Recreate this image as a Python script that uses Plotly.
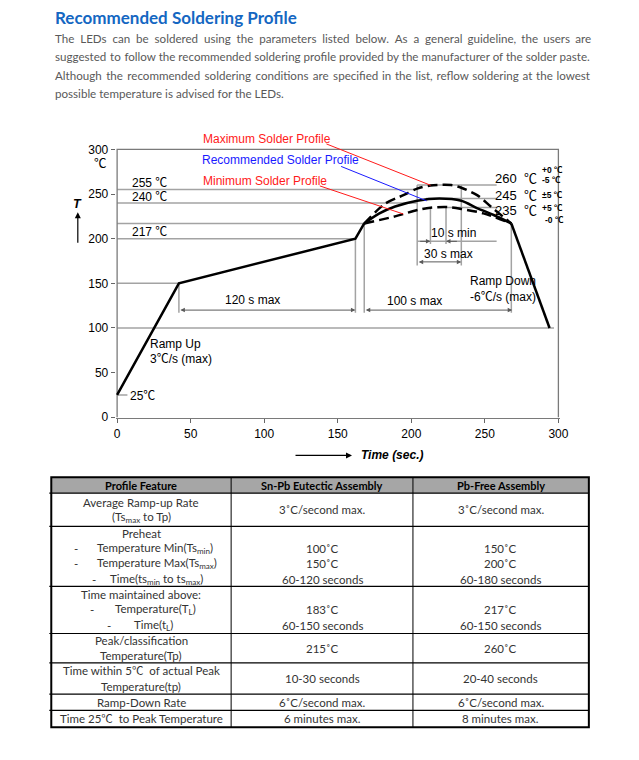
import plotly.graph_objects as go

# ---- profile data (time in s, temperature in degC) ----
base_time = [0, 42, 162, 168]
base_temp = [25, 150, 200, 217]
down_time = [268, 294]
down_temp = [217, 100]

rec_time = [168, 178, 189, 204, 219, 234, 245, 256, 268]
rec_temp = [217, 228, 236, 242.5, 245, 242.5, 234, 226.5, 217]
max_time = [168, 182, 195, 204, 213, 227, 234, 245, 254, 268]
max_temp = [217, 239, 249, 256, 259.5, 260, 257, 248.5, 236, 217]
min_time = [168, 189, 204, 213, 224, 234, 249, 268]
min_temp = [217, 225, 232, 234.7, 235.5, 233.3, 228.3, 217]

# horizontal guide lines: level, from, to
guide_level = [255, 240, 217, 200, 150, 100, 260, 245, 235, 197, 25]
guide_from = [0, 0, 0, 0, 0, 0, 204, 210, 223, 204, 0]
guide_to = [204, 204, 168, 162, 42, 297, 258, 258, 258, 258, 7]
# vertical guide lines: time, from, to
vguide_time = [42, 162, 168, 268, 204, 234, 213, 223.6]
vguide_top = [150, 200, 217, 217, 260, 260, 234.7, 235.5]
vguide_bot = [117, 117, 117, 117, 170, 170, 194, 194]

x_ticks = [0, 50, 100, 150, 200, 250, 300]
y_ticks = [0, 50, 100, 150, 200, 250, 300]

# ---- table content ----
table_header = ["Profile Feature", "Sn-Pb Eutectic Assembly", "Pb-Free Assembly"]
features = [
    ["Average Ramp-up Rate", "(Ts<sub>max</sub> to Tp)"],
    ["Preheat", "Temperature Min(Ts<sub>min</sub>)", "Temperature Max(Ts<sub>max</sub>)",
     "Time(ts<sub>min</sub> to ts<sub>max</sub>)"],
    ["Time maintained above:", "Temperature(T<sub>L</sub>)", "Time(t<sub>L</sub>)"],
    ["Peak/classification", "Temperature(Tp)"],
    ["Time within 5℃  of actual Peak", "Temperature(tp)"],
    ["Ramp-Down Rate"],
    ["Time 25℃  to Peak Temperature"],
]
snpb = [["3˚C/second max."], ["100˚C", "150˚C", "60-120 seconds"], ["183˚C", "60-150 seconds"],
        ["215˚C"], ["10-30 seconds"], ["6˚C/second max."], ["6 minutes max."]]
pbfree = [["3˚C/second max."], ["150˚C", "200˚C", "60-180 seconds"], ["217˚C", "60-150 seconds"],
          ["260˚C"], ["20-40 seconds"], ["6˚C/second max."], ["8 minutes max."]]

title = "Recommended Soldering Profile"
paragraph = [
    "The LEDs can be soldered using the parameters listed below. As a general guideline, the users are",
    "suggested to follow the recommended soldering profile provided by the manufacturer of the solder paste.",
    "Although the recommended soldering conditions are specified in the list, reflow soldering at the lowest",
    "possible temperature is advised for the LEDs.",
]
# hair spaces added across the word gaps of each line (text justification)
para_hair = [60, 2, 20, 0]

W, H = 639, 760
OFF = 8  # page body margin


def fx(p):
    return (p - OFF) / W


def fy(p):
    return 1 - (p - OFF) / H


def justify(line, n_hair):
    words = line.split(" ")
    gaps = len(words) - 1
    out = words[0]
    for i, w in enumerate(words[1:]):
        k = n_hair // gaps + (1 if i < n_hair % gaps else 0)
        out += " " + "\u200a" * k + w
    return out


ARIAL = "Liberation Sans, Arial, Noto Sans CJK SC, sans-serif"
DOC = "Lato, Noto Sans CJK SC, sans-serif"
GUIDE = "#a3a3a3"

fig = go.Figure()

# guide lines
gx, gy = [], []
for lv, a, b in zip(guide_level, guide_from, guide_to):
    gx += [a, b, None]
    gy += [lv, lv, None]
for t, a, b in zip(vguide_time, vguide_top, vguide_bot):
    gx += [t, t, None]
    gy += [a, b, None]
fig.add_trace(go.Scatter(x=gx, y=gy, mode="lines", line=dict(color=GUIDE, width=1.5),
                         hoverinfo="skip"))

# frame: left axis, top and right border
fig.add_trace(go.Scatter(x=[0, 0, 300, 300], y=[0, 300, 300, 0], mode="lines",
                         line=dict(color="#7a7a7a", width=1.3), hoverinfo="skip"))

# profiles
blk = dict(color="black", width=2.5)
fig.add_trace(go.Scatter(x=base_time, y=base_temp, mode="lines", line=blk))
fig.add_trace(go.Scatter(x=down_time, y=down_temp, mode="lines", line=blk))
fig.add_trace(go.Scatter(x=rec_time, y=rec_temp, mode="lines",
                         line=dict(color="black", width=2.5, shape="spline", smoothing=0.8)))
for tt, vv in [(max_time, max_temp), (min_time, min_temp)]:
    fig.add_trace(go.Scatter(x=tt, y=vv, mode="lines",
                             line=dict(color="black", width=2.5, dash="10px,5px",
                                       shape="spline", smoothing=0.8)))

ann = []


def txt(s, x, y, anchor="left", size=12, color="black", ref="data", **kw):
    d = dict(text=s, x=x, y=y, xanchor=anchor, yanchor="middle", showarrow=False,
             font=dict(family=kw.pop("family", ARIAL), size=size, color=color), **kw)
    if ref == "paper":
        d.update(xref="paper", yref="paper", x=fx(x), y=fy(y))
    ann.append(d)


# chart labels
txt("255 ℃", 8.7, 262.8)
txt("240 ℃", 8.7, 247)
txt("217 ℃", 8.7, 207)
txt("120 s max", 92, 131, "center")
txt("100 s max", 202, 130, "center")
txt("10 s min", 228.5, 206, "center")
txt("30 s max", 225, 183, "center")
txt("Ramp Up", 20.7, 82)
txt("3℃/s (max)", 20.7, 65)
txt("Ramp Down", 238.5, 152.7)
txt("-6℃/s (max)", 238.5, 134.6)
txt("25℃", 7.3, 24)
txt("260  ℃", 286.5, 267, "right", size=13)
txt("245  ℃", 286.5, 248, "right", size=13)
txt("235  ℃", 286.5, 232, "right", size=13)
txt("<b>+0 ℃</b>", 287.5, 277, size=8.5)
txt("<b>-5 ℃</b>", 287.5, 266, size=8.5)
txt("<b>±5 ℃</b>", 287.5, 248.5, size=8.5)
txt("<b>+5 ℃</b>", 287.5, 234, size=8.5)
txt("<b>-0 ℃</b>", 289.5, 220.5, size=8.5)
txt("Maximum Solder Profile", 57.3, 311.7, color="#ff1a1a")
txt("Recommended Solder Profile", 56.6, 287.6, color="#1a1aff")
txt("Minimum Solder Profile", 57, 264.7, color="#ff1a1a")
txt("℃", 100, 165, "center", size=12.5, ref="paper")
txt("<b><i>T</i></b>", 77, 206, "center", size=12.5, ref="paper")
txt("<b><i>Time (sec.)</i></b>", 363, 459, size=12, ref="paper")

# arrows
ARW = "#5a5a5a"
for a, b, lv in [(42, 162, 120), (168, 268.6, 120), (204, 234, 174)]:
    ann.append(dict(x=b, y=lv, ax=a, ay=lv, axref="x", ayref="y", text="", showarrow=True,
                    arrowhead=2, arrowsize=0.9, arrowwidth=1, arrowcolor=ARW,
                    arrowside="end+start", standoff=0, startstandoff=0))
for head, tail in [(213, 205), (223.6, 232)]:
    ann.append(dict(x=head, y=197, ax=tail, ay=197, axref="x", ayref="y", text="",
                    showarrow=True, arrowhead=2, arrowsize=0.9, arrowwidth=1, arrowcolor=ARW,
                    standoff=0))
ann.append(dict(x=fx(77), y=fy(214), xref="paper", yref="paper", ax=0, ay=32, text="",
                showarrow=True, arrowhead=2, arrowsize=1, arrowwidth=1.2, arrowcolor="black"))
ann.append(dict(x=fx(356), y=fy(459), xref="paper", yref="paper", ax=-58, ay=0, text="",
                showarrow=True, arrowhead=2, arrowsize=1, arrowwidth=1.2, arrowcolor="black"))

shapes = []
# leader lines
for (x0, y0, x1, y1, c) in [(142.3, 306.1, 213.1, 259.8, "#ff1a1a"),
                            (152.3, 280.9, 210.3, 242.4, "#1a1aff"),
                            (137.8, 259.1, 194.6, 227.6, "#ff1a1a")]:
    shapes.append(dict(type="line", xref="x", yref="y", x0=x0, y0=y0, x1=x1, y1=y1,
                       line=dict(color=c, width=1)))

# title and paragraph
txt("<b>" + title + "</b>", 52, 18, size=17, color="#1467c2", ref="paper", family=DOC)
for i, line in enumerate(paragraph):
    txt(justify(line, para_hair[i]), 52, 39 + i * 18.3, size=11.6, color="#595959",
        ref="paper", family=DOC)

# ---- table ----
col_x = [50, 233, 418, 597]
row_y = [481, 497, 530.5, 591, 638.5, 668, 699.5, 716, 733]
pitch = 15.3
TXT = "#333333"
TS = 11.5
shapes.append(dict(type="rect", xref="paper", yref="paper", x0=fx(50), x1=fx(597),
                   y0=fy(481), y1=fy(497), fillcolor="#a6a6a6", line=dict(width=0), layer="below"))
for y in row_y[1:-1]:
    shapes.append(dict(type="line", xref="paper", yref="paper", x0=fx(48), x1=fx(597),
                       y0=fy(y), y1=fy(y), line=dict(color="black", width=1.2)))
for x in col_x[1:-1]:
    shapes.append(dict(type="line", xref="paper", yref="paper", x0=fx(x), x1=fx(x),
                       y0=fy(481), y1=fy(733), line=dict(color="black", width=1)))
shapes.append(dict(type="rect", xref="paper", yref="paper", x0=fx(50), x1=fx(597),
                   y0=fy(481), y1=fy(733), line=dict(color="black", width=2)))

for j, h in enumerate(table_header):
    txt("<b>" + h + "</b>", (col_x[j] + col_x[j + 1]) / 2, 489.5, "center", size=11,
        ref="paper", family=DOC)

indents = {(1, 1): (75, 94), (1, 2): (75, 94), (1, 3): (93, 108),
           (2, 1): (91, 113), (2, 2): (109, 132)}
for r in range(len(features)):
    top, bot = row_y[r + 1], row_y[r + 2]
    mid = (top + bot) / 2
    lines = features[r]
    n = len(lines)
    ys = [mid + (k - (n - 1) / 2) * pitch for k in range(n)]
    for k, s in enumerate(lines):
        if (r, k) in indents:
            dx, tx = indents[(r, k)]
            txt("-", dx, ys[k], "center", size=TS, color=TXT, ref="paper", family=DOC)
            txt(s, tx, ys[k], size=TS, color=TXT, ref="paper", family=DOC)
        else:
            txt(s, (col_x[0] + col_x[1]) / 2, ys[k], "center", size=TS, color=TXT,
                ref="paper", family=DOC)
    for c, col in enumerate([snpb, pbfree]):
        vals = col[r]
        vy = [mid] if len(vals) == 1 else ys[-len(vals):]
        for s, y in zip(vals, vy):
            txt(s, (col_x[c + 1] + col_x[c + 2]) / 2, y, "center", size=TS, color=TXT,
                ref="paper", family=DOC)

fig.update_layout(
    width=W, height=H, margin=dict(l=0, r=0, t=0, b=0),
    paper_bgcolor="white", plot_bgcolor="white", showlegend=False,
    font=dict(family=ARIAL, size=12, color="black"),
    xaxis=dict(domain=[fx(115.5), fx(567.5)], range=[-1, 301], tickvals=x_ticks,
               ticks="outside", ticklen=4, tickcolor="#666", showline=True,
               linecolor="#7a7a7a", linewidth=1.3, showgrid=False, zeroline=False,
               tickfont=dict(family=ARIAL, size=12, color="black")),
    yaxis=dict(domain=[fy(421.4), fy(114.5)], range=[-1, 340], tickvals=y_ticks,
               ticks="outside", ticklen=4, tickcolor="#666", showline=False,
               showgrid=False, zeroline=False,
               tickfont=dict(family=ARIAL, size=12, color="black")),
    annotations=ann, shapes=shapes,
)

fig.write_html("out.html")
